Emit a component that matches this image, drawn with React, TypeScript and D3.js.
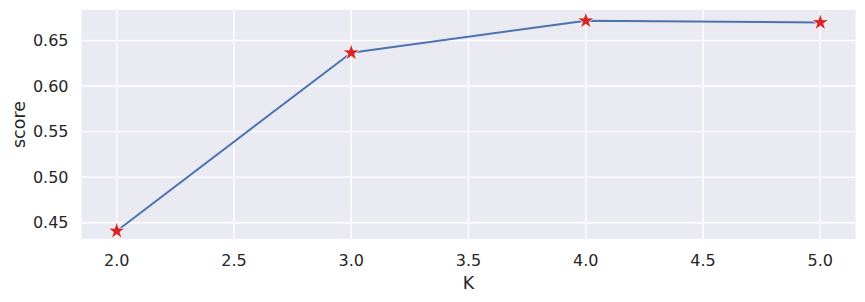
import React from "react";
import * as d3 from "d3";

const kValues = [2, 3, 4, 5];
const scores = [0.4409, 0.6366, 0.6717, 0.6698];
const xTicks = [2.0, 2.5, 3.0, 3.5, 4.0, 4.5, 5.0];
const yTicks = [0.45, 0.5, 0.55, 0.6, 0.65];

const W = 865;
const H = 302;
const left = 81.5;
const right = 855.5;
const top = 10;
const bottom = 239;

export default function App() {
  const x = d3.scaleLinear().domain([1.85, 5.15]).range([left, right]);
  const y = d3.scaleLinear().domain([0.4321, 0.6835]).range([bottom, top]);
  const pts = kValues.map((k, i) => [x(k), y(scores[i])] as [number, number]);
  const line = d3.line()(pts) || "";
  const star = d3.symbol().type(d3.symbolStar).size(95)() || "";
  const font = "'DejaVu Sans', sans-serif";
  return (
    <svg
      width={W}
      height={H}
      style={{ position: "absolute", left: 0, top: 0 }}
      fontFamily={font}
    >
      <rect x={0} y={0} width={W} height={H} fill="#ffffff" />
      <rect x={left} y={top} width={right - left} height={bottom - top} fill="#eaeaf2" />
      {xTicks.map((t) => (
        <line key={"gx" + t} x1={x(t)} x2={x(t)} y1={top} y2={bottom} stroke="#ffffff" strokeWidth={1.4} />
      ))}
      {yTicks.map((t) => (
        <line key={"gy" + t} x1={left} x2={right} y1={y(t)} y2={y(t)} stroke="#ffffff" strokeWidth={1.4} />
      ))}
      <path d={line} fill="none" stroke="#4c72b0" strokeWidth={2} strokeLinejoin="round" strokeLinecap="round" />
      {pts.map((p, i) => (
        <path
          key={"s" + i}
          d={star}
          transform={`translate(${p[0]},${p[1]})`}
          fill="#d62728"
          stroke="#ffffff"
          strokeWidth={0.8}
        />
      ))}
      {xTicks.map((t) => (
        <text key={"tx" + t} x={x(t)} y={266} textAnchor="middle" fontSize={16} fill="#262626">
          {t.toFixed(1)}
        </text>
      ))}
      {yTicks.map((t) => (
        <text key={"ty" + t} x={68.5} y={y(t)} dy="0.36em" textAnchor="end" fontSize={16} fill="#262626">
          {t.toFixed(2)}
        </text>
      ))}
      <text x={(left + right) / 2} y={288.5} textAnchor="middle" fontSize={17.5} fill="#262626">
        K
      </text>
      <text
        transform={`translate(25,${(top + bottom) / 2}) rotate(-90)`}
        textAnchor="middle"
        fontSize={17.5}
        fill="#262626"
      >
        score
      </text>
    </svg>
  );
}
